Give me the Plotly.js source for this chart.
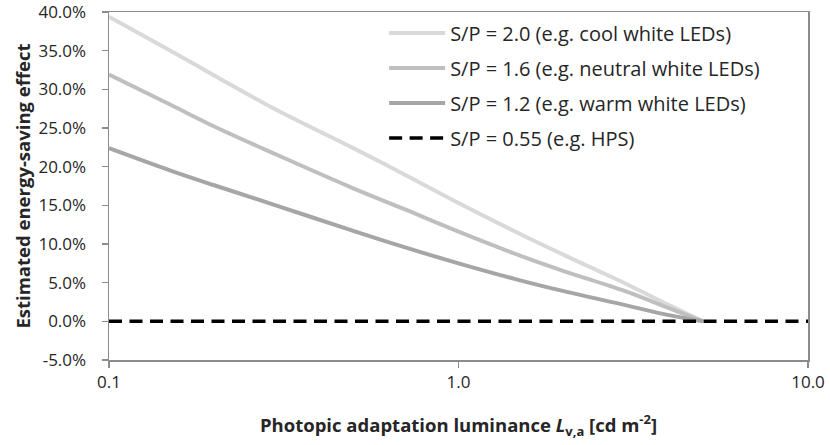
<!DOCTYPE html>
<html>
<head>
<meta charset="utf-8">
<script src="https://cdn.plot.ly/plotly-3.0.1.min.js"></script>
<style>
  html, body { margin: 0; padding: 0; background: #ffffff; }
  #chart { width: 830px; height: 445px; }
</style>
</head>
<body>
<div id="chart"></div>
<script>
// Photopic adaptation luminance [cd/m²]
const luminance = [0.1, 0.15, 0.2, 0.3, 0.5, 0.7, 1.0, 1.5, 2.0, 3.0, 4.0, 5.0];

// Estimated energy-saving effect [%] relative to HPS
const savingSP20 = [39.4, 35.0, 31.8, 27.4, 22.4, 19.0, 15.3, 11.3, 8.6, 4.9, 2.1, 0.0];
const savingSP16 = [31.9, 28.0, 25.2, 21.6, 17.2, 14.5, 11.6, 8.5, 6.5, 3.9, 1.7, 0.0];
const savingSP12 = [22.4, 19.5, 17.6, 15.0, 11.7, 9.6, 7.5, 5.3, 3.9, 2.1, 0.8, 0.0];

// Reference source (HPS) spans the whole axis at zero
const hpsLuminance = [0.1, 10.0];
const savingHPS = [0.0, 0.0];

const seriesNames = [
  'S/P = 2.0 (e.g. cool white LEDs)',
  'S/P = 1.6 (e.g. neutral white LEDs)',
  'S/P = 1.2 (e.g. warm white LEDs)',
  'S/P = 0.55 (e.g. HPS)'
];

const yTickVals = [-5, 0, 5, 10, 15, 20, 25, 30, 35, 40];
const yTickText = ['-5.0%', '0.0%', '5.0%', '10.0%', '15.0%', '20.0%', '25.0%', '30.0%', '35.0%', '40.0%'];
const xTickVals = [0.1, 1, 10];
const xTickText = ['0.1', '1.0', '10.0'];

const FONT = '"Open Sans", "Noto Sans", sans-serif';
const axisGray = '#8c8c8c';
const textColor = '#262626';

const traces = [
  { x: luminance, y: savingSP20, name: seriesNames[0], legendgroup: 'a',
    mode: 'lines', line: { color: '#d9d9d9', width: 4, shape: 'spline' } },
  { x: luminance, y: savingSP16, name: seriesNames[1], legendgroup: 'b',
    mode: 'lines', line: { color: '#bfbfbf', width: 4, shape: 'spline' } },
  { x: luminance, y: savingSP12, name: seriesNames[2], legendgroup: 'c',
    mode: 'lines', line: { color: '#a6a6a6', width: 4, shape: 'spline' } },
  { x: hpsLuminance, y: savingHPS, name: seriesNames[3], legendgroup: 'd',
    mode: 'lines', line: { color: '#000000', width: 3.5, dash: '13px,7.5px' } }
];

const layout = {
  width: 830,
  height: 445,
  margin: { l: 109, r: 22, t: 12, b: 85 },
  paper_bgcolor: '#ffffff',
  plot_bgcolor: '#ffffff',
  font: { family: FONT, size: 17, color: textColor },
  showlegend: true,
  legend: {
    x: 0.3936, y: 0.996, xanchor: 'left', yanchor: 'top',
    bgcolor: 'rgba(255,255,255,0)',
    font: { family: FONT, size: 20, color: textColor },
    tracegroupgap: 6,
    itemwidth: 56,
    traceorder: 'grouped'
  },
  xaxis: {
    type: 'log',
    range: [-1, 1],
    tickvals: xTickVals,
    ticktext: xTickText,
    ticks: 'outside',
    ticklen: 6,
    tickcolor: axisGray,
    tickwidth: 1.5,
    ticklabeloverflow: 'allow',
    showline: true,
    linecolor: axisGray,
    linewidth: 1.5,
    mirror: true,
    showgrid: false,
    zeroline: false,
    tickfont: { family: FONT, size: 17, color: textColor },
    title: {
      text: '<b>Photopic adaptation luminance <i>L</i><sub>v,a</sub> [cd m<sup>-2</sup>]</b>',
      font: { family: FONT, size: 18.5, color: textColor },
      standoff: 27
    }
  },
  yaxis: {
    range: [-5, 40],
    tickvals: yTickVals,
    ticktext: yTickText,
    ticks: 'outside',
    ticklen: 6,
    tickcolor: axisGray,
    tickwidth: 1.5,
    ticklabelstandoff: 12,
    ticklabeloverflow: 'allow',
    showline: true,
    linecolor: axisGray,
    linewidth: 1.5,
    mirror: true,
    showgrid: false,
    zeroline: false,
    tickfont: { family: FONT, size: 17, color: textColor },
    title: {
      text: '<b>Estimated energy-saving effect</b>',
      font: { family: FONT, size: 18.5, color: textColor },
      standoff: 3
    }
  }
};

Plotly.newPlot('chart', traces, layout, { displayModeBar: false, staticPlot: true });
</script>
</body>
</html>
